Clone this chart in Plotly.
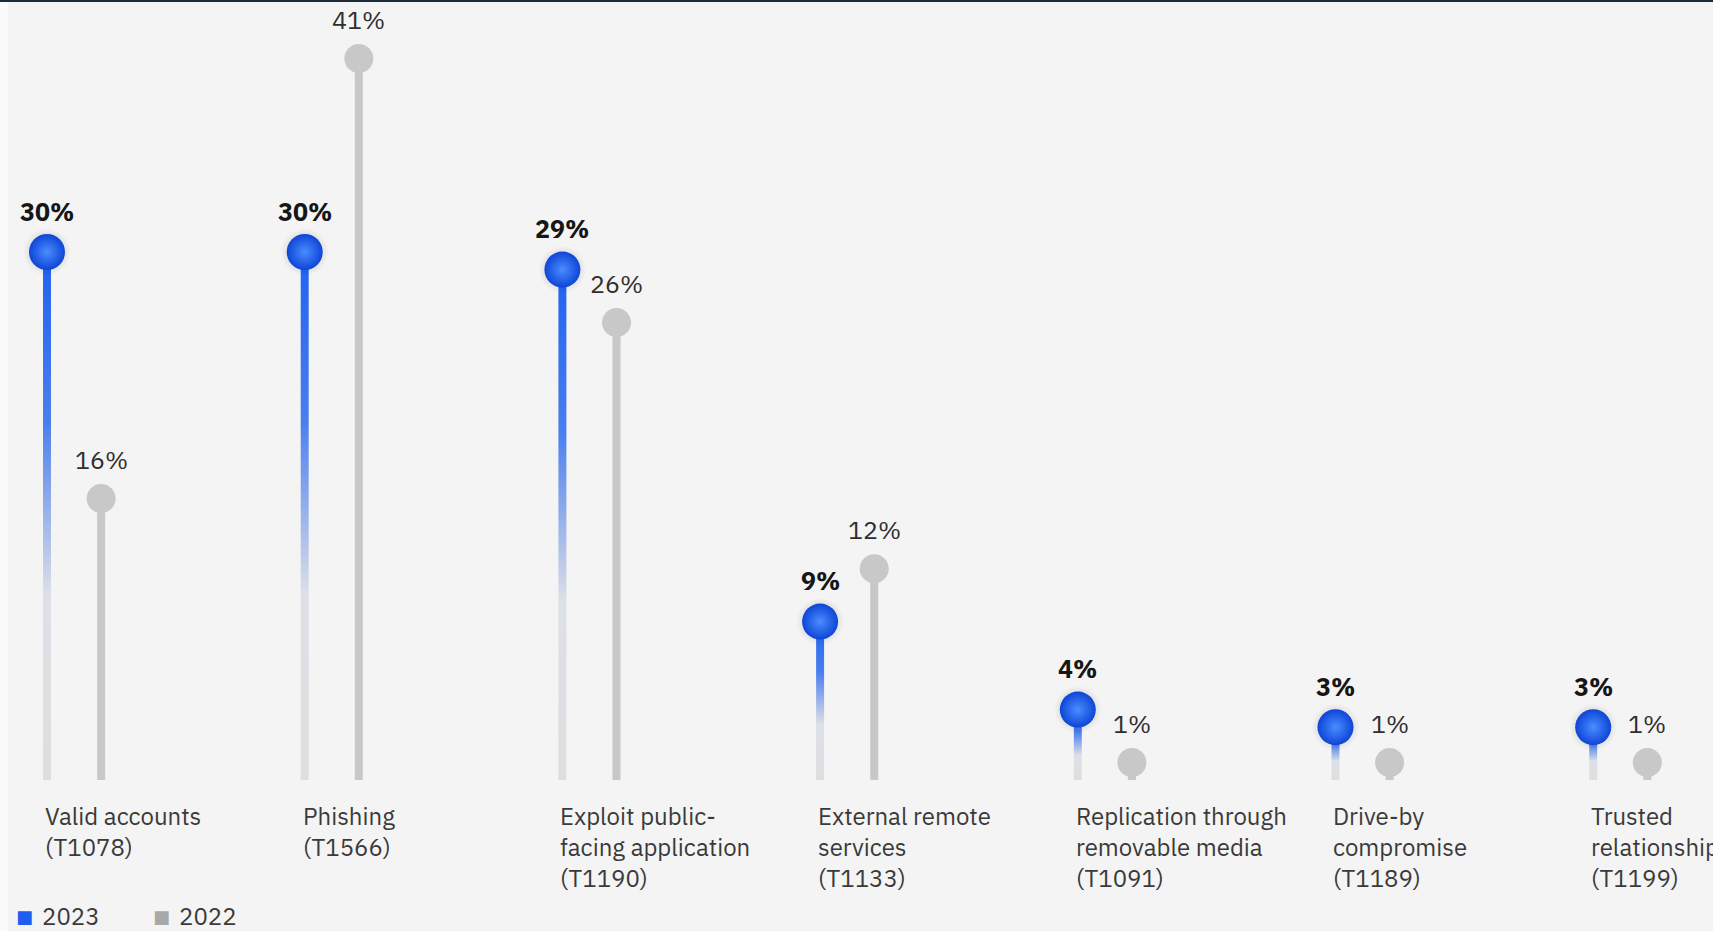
import plotly.graph_objects as go

# ---------------- data ----------------
categories = [
    "Valid accounts<br>(T1078)",
    "Phishing<br>(T1566)",
    "Exploit public-<br>facing application<br>(T1190)",
    "External remote<br>services<br>(T1133)",
    "Replication through<br>removable media<br>(T1091)",
    "Drive-by<br>compromise<br>(T1189)",
    "Trusted<br>relationship<br>(T1199)",
]
values_2023 = [30, 30, 29, 9, 4, 3, 3]
values_2022 = [16, 41, 26, 12, 1, 1, 1]
series_names = ["2023", "2022"]

# ---------------- style ----------------
FONT = "IBM Plex Sans, Noto Sans, Open Sans, sans-serif"
BLUE_EDGE = "#0e45d6"
BLUE_CENTER = "#4a8dff"
GRAY = "#c8c8c8"
BG = "#f4f4f4"
GRAY_OFFSET = 0.21      # x offset of 2022 stem from 2023 stem (category units)
STEM_HALF = 0.0155      # half stem width (category units)
W, H = 1713, 931
X0_PX, X_STEP = 47, 257.7
Y0_PX, Y_STEP = 780, 17.6

idx = list(range(len(categories)))
x_blue = idx
x_gray = [i + GRAY_OFFSET for i in idx]

fig = go.Figure()

# 2022 stems (solid gray)
sx, sy = [], []
for x, v in zip(x_gray, values_2022):
    sx += [x, x, None]
    sy += [0, v, None]
fig.add_trace(go.Scatter(x=sx, y=sy, mode="lines",
                         line=dict(color=GRAY, width=8),
                         hoverinfo="skip", showlegend=False))

# 2023 stems (gradient blue -> light gray)
for x, v in zip(x_blue, values_2023):
    fig.add_trace(go.Scatter(
        x=[x - STEM_HALF, x + STEM_HALF, x + STEM_HALF, x - STEM_HALF, x - STEM_HALF],
        y=[0, 0, v, v, 0],
        mode="lines", fill="toself", line=dict(width=0),
        fillgradient=dict(type="vertical", start=0, stop=v,
                          colorscale=[[0, "#dedede"], [0.35, "#dde0e7"],
                                      [0.68, "#4a7eee"], [1, "#1f62f0"]]),
        hoverinfo="skip", showlegend=False))

# 2022 markers
fig.add_trace(go.Scatter(x=x_gray, y=values_2022, mode="markers",
                         marker=dict(size=29, color=GRAY, line=dict(width=0)),
                         name=series_names[1], showlegend=False))

# 2023 marker shadow
fig.add_trace(go.Scatter(x=x_blue, y=values_2023, mode="markers",
                         marker=dict(size=48, color="rgba(0,0,0,0)",
                                     gradient=dict(type="radial", color="rgba(0,0,0,0.28)"),
                                     line=dict(width=0)),
                         hoverinfo="skip", showlegend=False))
# 2023 markers (sphere-like)
fig.add_trace(go.Scatter(x=x_blue, y=values_2023, mode="markers",
                         marker=dict(size=36, color=BLUE_EDGE,
                                     gradient=dict(type="radial", color=BLUE_CENTER),
                                     line=dict(width=0)),
                         name=series_names[0], showlegend=False))

annotations = []
for x, v in zip(x_blue, values_2023):
    annotations.append(dict(x=x, y=v, xref="x", yref="y", text=f"<b>{v}%</b>",
                            showarrow=False, yshift=41,
                            font=dict(family=FONT, size=25, color="#161616")))
for x, v in zip(x_gray, values_2022):
    annotations.append(dict(x=x, y=v, xref="x", yref="y", text=f"{v}%",
                            showarrow=False, yshift=39,
                            font=dict(family=FONT, size=25, color="#2e2e2e")))
for x, c in zip(x_blue, categories):
    annotations.append(dict(x=x - 0.016, y=-1.05, xref="x", yref="y", text=c,
                            showarrow=False, xanchor="left", yanchor="top", align="left",
                            font=dict(family=FONT, size=24, color="#3a3a3a")))

# legend
legend_items = [(series_names[0], "#1f5ef0", 24, 40), (series_names[1], "#a8a8a8", 161, 177)]
for name, col, sq_x, tx_x in legend_items:
    annotations.append(dict(x=sq_x / W, y=(H - 916) / H, xref="paper", yref="paper",
                            xanchor="center", yanchor="middle", showarrow=False,
                            text="■", font=dict(family="DejaVu Sans", size=18, color=col)))
    annotations.append(dict(x=tx_x / W, y=(H - 916) / H, xref="paper", yref="paper",
                            xanchor="left", yanchor="middle", showarrow=False,
                            text=name, font=dict(family=FONT, size=24, color="#3a3a3a")))

shapes = [
    dict(type="rect", xref="paper", yref="paper", x0=0, x1=8 / W, y0=0, y1=1,
         fillcolor="#fbfbfb", line=dict(width=0), layer="below"),
    dict(type="rect", xref="paper", yref="paper", x0=0, x1=1, y0=1 - 2 / H, y1=1,
         fillcolor="#1c2a3a", line=dict(width=0)),
]

fig.update_layout(
    width=W, height=H, autosize=False,
    margin=dict(l=0, r=0, t=0, b=0),
    paper_bgcolor=BG, plot_bgcolor=BG,
    xaxis=dict(range=[-X0_PX / X_STEP, (W - X0_PX) / X_STEP], visible=False, fixedrange=True),
    yaxis=dict(range=[-(H - Y0_PX) / Y_STEP, Y0_PX / Y_STEP], visible=False, fixedrange=True),
    annotations=annotations, shapes=shapes,
    showlegend=False,
)

fig.write_html("out.html")
